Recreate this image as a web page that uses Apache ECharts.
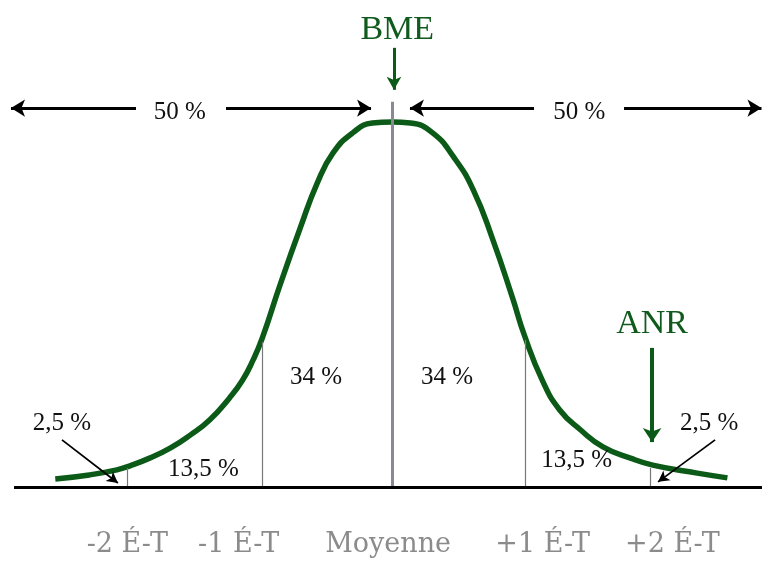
<!DOCTYPE html>
<html>
<head>
<meta charset="utf-8">
<script src="https://cdn.jsdelivr.net/npm/echarts@6/dist/echarts.min.js"></script>
<style>
  html, body { margin: 0; padding: 0; background: #fff; }
  #chart { width: 762px; height: 564px; }
</style>
</head>
<body>
<div id="chart"></div>
<script>
// x in standard deviations from the mean, y as height relative to the peak (1 = top)
const curveX = [-2.57, -2.31, -2.10, -2.00, -1.85, -1.69, -1.54, -1.39, -1.24, -1.14, -1.06, -0.99,
  -0.855, -0.70, -0.57, -0.45, -0.30, -0.15, 0, 0.14, 0.31, 0.47, 0.62, 0.77, 0.92, 1.01,
  1.15, 1.28, 1.44, 1.61, 1.82, 1.99, 2.33, 2.56];
const curveY = [0.022, 0.033, 0.047, 0.058, 0.079, 0.107, 0.142, 0.184, 0.244, 0.293, 0.348, 0.408,
  0.553, 0.710, 0.833, 0.915, 0.970, 0.997, 1.0, 0.997, 0.970, 0.904, 0.814, 0.677, 0.518, 0.416,
  0.290, 0.211, 0.156, 0.110, 0.079, 0.060, 0.038, 0.025];

// thin dividers at -2, -1, +1, +2 SD and the height where they meet the curve
const sdLineX = [-2.02, -0.99, 1.02, 1.97];
const sdLineTop = [0.052, 0.397, 0.403, 0.052];
const meanLineTop = 1.055;

// tick labels under the axis
const tickLabels = ['-2 É-T', '-1 É-T', 'Moyenne', '+1 É-T', '+2 É-T'];
const tickLabelX = [-2.02, -1.17, -0.03, 1.15, 2.14];
const tickLabelY = -0.16;

// area percentages
const areaLabels = ['2,5 %', '13,5 %', '34 %', '34 %', '13,5 %', '2,5 %', '50 %', '50 %'];
const areaLabelX = [-2.52, -1.44, -0.58, 0.42, 1.41, 2.42, -1.62, 1.43];
const areaLabelY = [0.173, 0.049, 0.301, 0.301, 0.074, 0.175, 1.027, 1.027];

// markers
const markerLabels = ['BME', 'ANR'];
const markerX = [0.04, 1.985];
const markerY = [1.252, 0.447];

const green = '#0c5a17';

const chart = echarts.init(document.getElementById('chart'));

const vLines = sdLineX.map((x, i) => [{ coord: [x, 0] }, { coord: [x, sdLineTop[i]] }]);

const arrow = (a, b, head, size, style) => [
  { coord: a, symbol: head === 'start' ? 'arrow' : 'none', symbolSize: size, lineStyle: style },
  { coord: b, symbol: head === 'end' ? 'arrow' : 'none', symbolSize: size }
];

const black3 = { width: 3, color: '#000' };
const pointer = { width: 1.8, color: '#000' };

chart.setOption({
  animation: false,
  backgroundColor: '#fff',
  grid: { left: 0, right: 0, top: 0, bottom: 0 },
  xAxis: { type: 'value', min: -2.992, max: 2.824, show: false },
  yAxis: { type: 'value', min: -0.211, max: 1.334, show: false },
  series: [
    {
      name: 'guides',
      type: 'line',
      data: [],
      silent: true,
      z: 1,
      markLine: {
        silent: true,
        symbol: 'none',
        label: { show: false },
        data: [
          ...vLines,
          [{ coord: [0, 0], lineStyle: { width: 3, color: '#8a8a92' } }, { coord: [0, meanLineTop] }]
        ],
        lineStyle: { type: 'solid', color: '#77777c', width: 1.2 }
      }
    },
    {
      name: 'baseline',
      type: 'line',
      data: [],
      silent: true,
      z: 2,
      markLine: {
        silent: true,
        symbol: 'none',
        label: { show: false },
        data: [[{ coord: [-2.885, 0] }, { coord: [2.824, 0] }]],
        lineStyle: { type: 'solid', color: '#000', width: 3 }
      }
    },
    {
      name: 'courbe',
      type: 'line',
      data: curveX.map((x, i) => [x, curveY[i]]),
      smooth: 0.5,
      showSymbol: false,
      silent: true,
      z: 3,
      lineStyle: { color: green, width: 5.5, cap: 'butt' }
    },
    {
      name: 'flèches',
      type: 'line',
      data: [],
      silent: true,
      z: 4,
      markLine: {
        silent: true,
        symbol: 'none',
        label: { show: false },
        lineStyle: { type: 'solid', color: '#000', width: 3 },
        data: [
          arrow([-2.908, 1.038], [-1.954, 1.038], 'start', [13, 14], black3),
          arrow([-1.267, 1.038], [-0.16, 1.038], 'end', [13, 14], black3),
          arrow([0.137, 1.038], [1.084, 1.038], 'start', [13, 14], black3),
          arrow([1.771, 1.038], [2.82, 1.038], 'end', [13, 14], black3),
          arrow([-2.519, 0.129], [-2.092, 0.011], 'end', [9, 11], pointer),
          arrow([2.466, 0.129], [2.031, 0.014], 'end', [9, 11], pointer),
          arrow([0.015, 1.203], [0.015, 1.088], 'end', [11, 13], { width: 3, color: green }),
          arrow([1.985, 0.381], [1.985, 0.123], 'end', [14, 14], { width: 4, color: green })
        ]
      }
    },
    {
      name: 'textes',
      type: 'scatter',
      symbolSize: 0,
      silent: true,
      z: 5,
      itemStyle: { opacity: 1 },
      label: { show: true, position: 'inside', formatter: '{b}' },
      data: [
        ...tickLabels.map((t, i) => ({
          name: t, value: [tickLabelX[i], tickLabelY],
          label: { color: '#8b8b8b', fontFamily: 'DejaVu Serif', fontSize: 27 }
        })),
        ...areaLabels.map((t, i) => ({
          name: t, value: [areaLabelX[i], areaLabelY[i]],
          label: { color: '#111', fontFamily: 'Liberation Serif', fontSize: 25 }
        })),
        ...markerLabels.map((t, i) => ({
          name: t, value: [markerX[i], markerY[i]],
          label: { color: '#0f5a1c', fontFamily: 'Liberation Serif', fontSize: 34 }
        }))
      ]
    }
  ]
});
</script>
</body>
</html>
